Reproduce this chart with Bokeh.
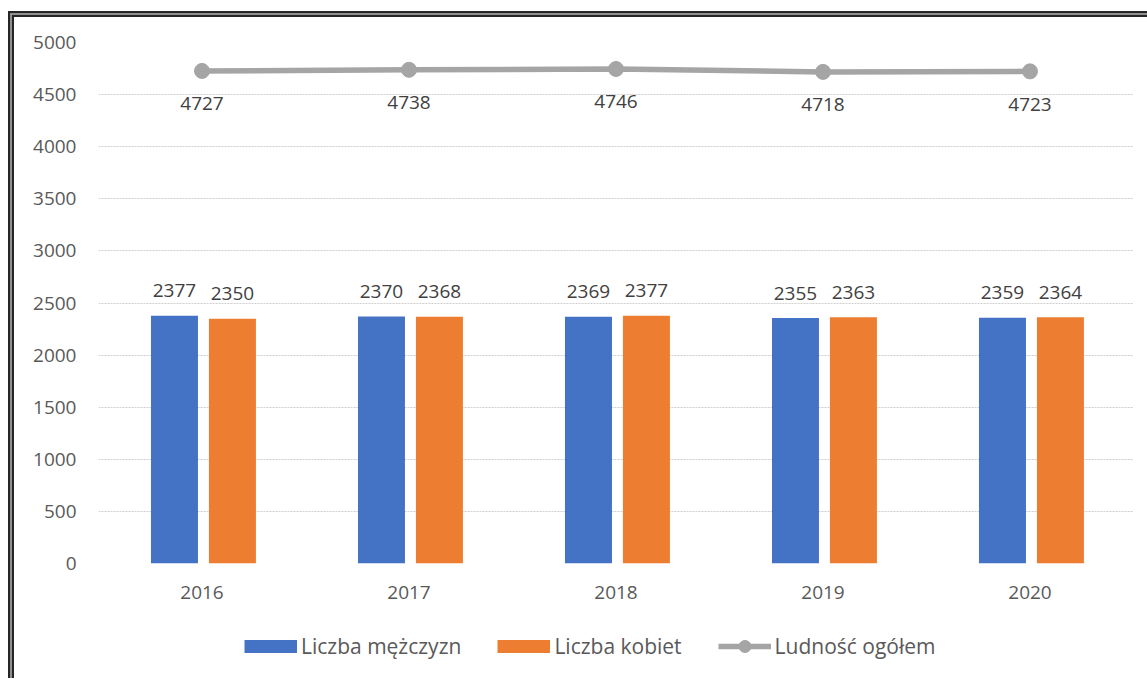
from bokeh.plotting import figure
from bokeh.layouts import column
from bokeh.models import ColumnDataSource, FactorRange, Range1d, FixedTicker, Legend, LegendItem
from bokeh.transform import dodge
from bokeh.core.properties import value
from bokeh.embed import file_html
from bokeh.resources import INLINE

years = ["2016", "2017", "2018", "2019", "2020"]
men = [2377, 2370, 2369, 2355, 2359]
women = [2350, 2368, 2377, 2363, 2364]
total = [4727, 4738, 4746, 4718, 4723]
y_ticks = [0, 500, 1000, 1500, 2000, 2500, 3000, 3500, 4000, 4500, 5000]
series_names = ["Liczba mężczyzn", "Liczba kobiet", "Ludność ogółem"]

FONT = "Open Sans"
FS = "19px"
BLUE = "#4472C4"
ORANGE = "#ED7D31"
GRAY = "#A5A5A5"
TXT = "#595959"

src = ColumnDataSource(dict(
    year=years, men=men, women=women, total=total,
    men_lbl=[str(v) for v in men],
    women_lbl=[str(v) for v in women],
    total_lbl=[str(v) for v in total],
))

W = 1133
p = figure(x_range=FactorRange(*years), y_range=Range1d(0, 5000),
           width=W, height=601, output_backend="svg", toolbar_location=None,
           min_border_left=84, min_border_right=14, min_border_top=25, min_border_bottom=55)
p.outline_line_color = None
p.background_fill_color = "white"
p.border_fill_color = "white"

# axes
p.yaxis.ticker = FixedTicker(ticks=y_ticks)
for ax in (p.xaxis, p.yaxis):
    ax.axis_line_color = None
    ax.major_tick_line_color = None
    ax.minor_tick_line_color = None
    ax.major_tick_out = 0
    ax.major_tick_in = 0
    ax.major_label_text_font = FONT
    ax.major_label_text_font_size = FS
    ax.major_label_text_color = TXT
p.yaxis.major_label_standoff = 22
p.xaxis.major_label_standoff = 22

p.xgrid.grid_line_color = None
p.ygrid.grid_line_color = "#cfcfcf"
p.ygrid.grid_line_dash = "2 1"
p.ygrid.grid_line_width = 1

off_m, off_w, bw = -0.133, 0.147, 0.227
p.vbar(x=dodge("year", off_m, range=p.x_range), top="men", width=bw,
       source=src, fill_color=BLUE, line_color=None)
p.vbar(x=dodge("year", off_w, range=p.x_range), top="women", width=bw,
       source=src, fill_color=ORANGE, line_color=None)
p.line(x="year", y="total", source=src, line_color=GRAY, line_width=5.5)
p.scatter(x="year", y="total", source=src, size=15, fill_color=GRAY, line_color=GRAY)

lbl_kw = dict(text_align="center", text_baseline="middle", text_font=value(FONT),
              text_font_size=FS, text_color="#404040", source=src)
p.text(x=dodge("year", off_m, range=p.x_range), y="men", text="men_lbl", y_offset=-25, **lbl_kw)
p.text(x=dodge("year", off_w, range=p.x_range), y="women", text="women_lbl", y_offset=-25, **lbl_kw)
p.text(x="year", y="total", text="total_lbl", y_offset=33, **lbl_kw)

# legend strip (separate canvas so that nothing clips it)
lp = figure(x_range=FactorRange(*years), y_range=Range1d(0, 5000), width=W, height=60,
            output_backend="svg", toolbar_location=None,
            x_axis_location=None, y_axis_location=None,
            min_border_left=84, min_border_right=14, min_border_top=0, min_border_bottom=0)
lp.outline_line_color = None
lp.xgrid.grid_line_color = None
lp.ygrid.grid_line_color = None
lp.background_fill_color = "white"
lp.border_fill_color = "white"
# hidden proxies: thick lines give the 13px-high colour blocks of the reference
sw_men = lp.line(x="year", y="men", source=src, line_color=BLUE, line_width=13, visible=False)
sw_women = lp.line(x="year", y="women", source=src, line_color=ORANGE, line_width=13, visible=False)
sw_tot = lp.line(x="year", y="total", source=src, line_color=GRAY, line_width=5.5, visible=False)
sw_pts = lp.scatter(x="year", y="total", source=src, fill_color=GRAY, line_color=GRAY, visible=False)

leg = Legend(items=[LegendItem(label=series_names[0], renderers=[sw_men]),
                    LegendItem(label=series_names[1], renderers=[sw_women]),
                    LegendItem(label=series_names[2], renderers=[sw_tot, sw_pts])],
             orientation="horizontal", label_text_font=FONT, label_text_font_size="21px",
             label_text_color=TXT, border_line_color=None, background_fill_alpha=0,
             inactive_fill_alpha=0, click_policy="none",
             padding=0, margin=0, label_standoff=4, spacing=36,
             glyph_width=53, glyph_height=30, location=(146, 17))
lp.add_layout(leg, "center")

layout = column(p, lp, spacing=0)
layout.styles = {
    "transform": "translate(8px, 11px)",
    "border-left": "6px double #262626", "border-top": "6px double #262626",
    "background": "linear-gradient(#ffffff, #ffffff) padding-box, "
                  "linear-gradient(#8f8f8f, #8f8f8f) border-box",
}

open("out.html", "w").write(file_html(layout, INLINE))
